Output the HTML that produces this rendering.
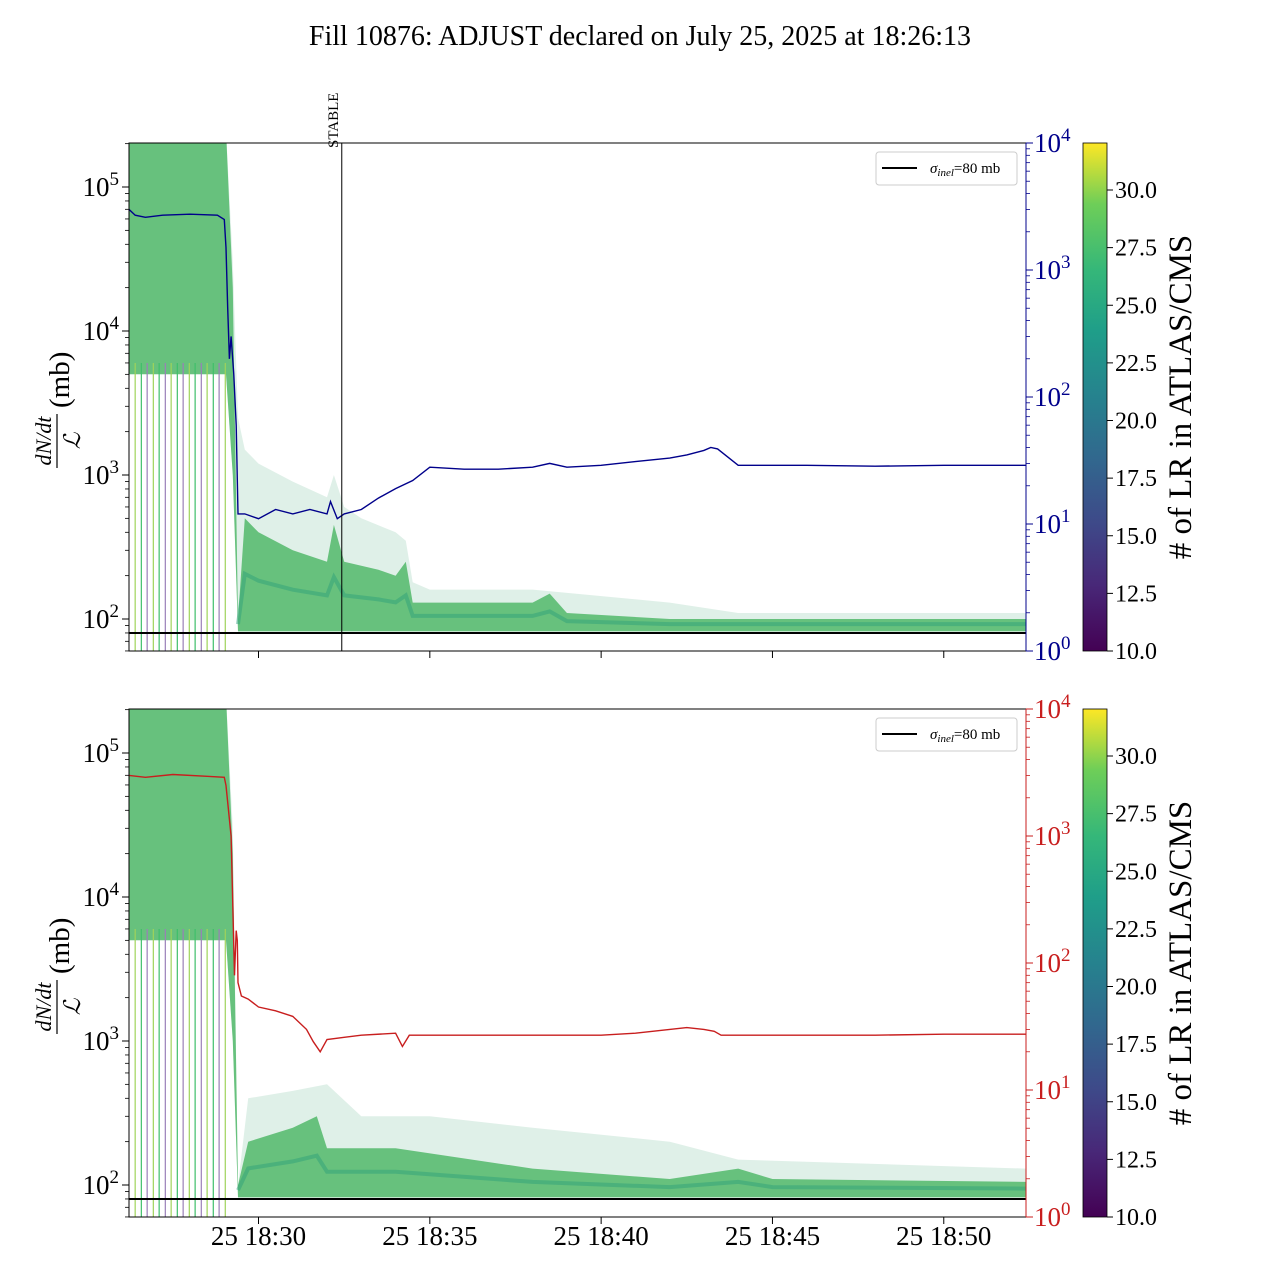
<!DOCTYPE html>
<html><head><meta charset="utf-8">
<style>
html,body{margin:0;padding:0;background:#fff;}
svg{display:block;font-family:"Liberation Serif",serif;}
</style></head>
<body>
<svg id="chart" width="1280" height="1280" viewBox="0 0 1280 1280" xmlns="http://www.w3.org/2000/svg">
<defs>
<linearGradient id="viridis" x1="0" y1="1" x2="0" y2="0">
<stop offset="0" stop-color="#440154"/><stop offset="0.13" stop-color="#482878"/><stop offset="0.25" stop-color="#3e4989"/><stop offset="0.38" stop-color="#31688e"/><stop offset="0.5" stop-color="#26828e"/><stop offset="0.63" stop-color="#1f9e89"/><stop offset="0.75" stop-color="#35b779"/><stop offset="0.88" stop-color="#6ece58"/><stop offset="1" stop-color="#fde725"/>
</linearGradient>
</defs>
<text x="640" y="45" font-size="28" text-anchor="middle">Fill 10876: ADJUST declared on July 25, 2025 at 18:26:13</text>
<g id="g"></g>
</svg>
<script>
// ---- data (time = minutes after 18:30) ----
const tStart = -3.78, tEnd = 22.4;
const xTickLabels = ["25 18:30","25 18:35","25 18:40","25 18:45","25 18:50"];
const xTickTimes = [0,5,10,15,20];
const stableTime = 2.43;
const sigmaInel = 80;
// top panel bundle envelopes
const topOuterT = [-3.78,-0.95,-0.75,-0.6,-0.4,0,1,2,2.2,2.5,3,4,4.3,4.5,5,8,12,14,22.4];
const topOuterV = [250000,250000,30000,2500,1500,1200,900,700,1000,600,500,400,350,180,160,160,130,110,110];
const topDenseT = [-3.78,-0.95,-0.75,-0.6,-0.4,0,1,2,2.2,2.5,3.5,4,4.3,4.5,5,8,8.5,9,12,22.4];
const topDenseV = [250000,250000,20000,100,500,400,300,250,450,250,220,200,250,130,130,130,150,110,100,100];
const topLowT = [-3.78,-0.95,-0.75,-0.6,22.4];
const topLowV = [5000,5000,1000,82,82];
// bottom panel bundle envelopes
const botOuterT = [-3.78,-0.95,-0.75,-0.6,-0.3,1,2,3,5,8,12,14,22.4];
const botOuterV = [250000,250000,30000,100,400,450,500,300,300,250,200,150,130];
const botDenseT = [-3.78,-0.95,-0.75,-0.6,-0.3,1,1.7,2,4,8,12,14,15,22.4];
const botDenseV = [250000,250000,20000,100,200,250,300,180,180,130,110,130,110,105];
const botLowT = [-3.78,-0.95,-0.75,-0.6,22.4];
const botLowV = [5000,5000,1000,82,82];
// vertical streak times (early phase)
const streakT = [-3.6,-3.42,-3.25,-3.07,-2.9,-2.72,-2.55,-2.37,-2.2,-2.02,-1.85,-1.67,-1.5,-1.32,-1.15,-0.97];
// blue line (top, right axis)
const blueT = [-3.78,-3.6,-3.3,-2.8,-2.0,-1.2,-1.0,-0.95,-0.9,-0.85,-0.8,-0.72,-0.65,-0.6,-0.4,0,0.5,1,1.5,2,2.1,2.3,2.5,3,3.5,4,4.5,5,6,7,8,8.5,9,10,11,12,12.5,13,13.2,13.4,14,16,18,20,22.4];
const blueV = [3000,2700,2600,2700,2750,2700,2500,1500,500,200,300,150,60,12,12,11,13,12,13,12,15,11,12,13,16,19,22,28,27,27,28,30,28,29,31,33,35,38,40,39,29,29,28.5,29,29];
// red line (bottom, right axis)
const redT = [-3.78,-3.3,-2.5,-1.5,-1.0,-0.95,-0.8,-0.7,-0.65,-0.62,-0.6,-0.5,-0.3,0,0.5,1,1.4,1.6,1.8,2,2.5,3,4,4.2,4.4,5,6,8,10,11,12,12.5,13,13.3,13.5,14,16,18,20,22.4];
const redV = [3000,2900,3050,2950,2900,2500,1000,80,180,150,70,55,52,45,42,38,30,24,20,25,26,27,28,22,27,27,27,27,27,28,30,31,30,29,27,27,27,27,27.5,27.5];

const svg = document.getElementById('g');
const NS = 'http://www.w3.org/2000/svg';
function el(tag, attrs, parent){const e=document.createElementNS(NS,tag);for(const k in attrs)e.setAttribute(k,attrs[k]);(parent||svg).appendChild(e);return e;}
const X0=129, X1=1026;
function xOf(t){return X0+(t-tStart)/(tEnd-tStart)*(X1-X0);}
function makeLeft(top){return v=>top+44+(5-Math.log10(v))*144;}
function makeRight(top){return v=>top+508-Math.log10(v)*127;}

function panel(top, oT,oV,dT,dV,lT,lV, lineT,lineV,lineColor,showXLabels,showStable,pname){
  const bot=top+508, yL=makeLeft(top), yR=makeRight(top);
  const g=el('g',{});
  
  
  const cp=el('clipPath',{id:'clip'+top},g);el('rect',{x:X0,y:top,width:X1-X0,height:508},cp);
  const c=el('g',{'clip-path':'url(#clip'+top+')'},g);
  function band(upT,upV,loT,loV,fill,op,name){
    let d='';upT.forEach((t,i)=>{d+=(i?'L':'M')+xOf(t).toFixed(1)+','+yL(upV[i]).toFixed(1);});
    for(let i=loT.length-1;i>=0;i--)d+='L'+xOf(loT[i]).toFixed(1)+','+yL(loV[i]).toFixed(1);
    const p=el('path',{d:d+'Z',fill:fill,'fill-opacity':op},c);
    
    
  }
  band(oT,oV,lT,lV,'#5fb58a',0.2,'bundle-outer-envelope');
  band(dT,dV,lT,lV,'#52b86a',0.85,'bundle-dense-band');
  let d='';let first=true;
  dT.forEach((t,i)=>{if(t< -0.6)return;const v=Math.max(85,Math.sqrt(dV[i]*85));d+=(first?'M':'L')+xOf(t).toFixed(1)+','+yL(v).toFixed(1);first=false;});
  const core=el('path',{d:d,fill:'none',stroke:'#2a9d7a','stroke-width':4,'stroke-opacity':0.45},c);
  
  
  streakT.forEach((t,i)=>{
    const s=el('line',{x1:xOf(t),x2:xOf(t),y1:yL(6000),y2:bot,stroke:i%3==0?'#9fd35a':(i%3==1?'#3fbf6a':'#9a7fb8'),'stroke-width':1.2},c);
    
    
  });
  const h=el('line',{x1:X0,x2:X1,y1:yL(sigmaInel),y2:yL(sigmaInel),stroke:'#000','stroke-width':2},g);
  
  
  let ld='';lineT.forEach((t,i)=>{ld+=(i?'L':'M')+xOf(t).toFixed(1)+','+yR(lineV[i]).toFixed(1);});
  const lp=el('path',{d:ld,fill:'none',stroke:lineColor,'stroke-width':1.4},c);
  
  
  if(showStable){
    const sx=xOf(stableTime);
    const sl=el('line',{x1:sx,x2:sx,y1:top,y2:bot,stroke:'#000','stroke-width':1},g);
    
    
    const st=el('text',{x:0,y:0,'font-size':15,transform:'translate('+(sx-4)+','+(top+5)+') rotate(-90)'},g);
    st.textContent='STABLE';
    
    
  }
  el('rect',{x:X0,y:top,width:X1-X0,height:508,fill:'none',stroke:'#000','stroke-width':1},g);
  el('line',{x1:X1,x2:X1,y1:top,y2:bot,stroke:lineColor,'stroke-width':1},g);
  for(let e=1;e<=5;e++){for(let m=1;m<10;m++){const v=m*Math.pow(10,e);const y=yL(v);if(y<top||y>bot)continue;
    el('line',{x1:X0,x2:X0-(m==1?7:4),y1:y,y2:y,stroke:'#000','stroke-width':m==1?1:0.8},g);
    if(m==1){const t=el('text',{x:X0-10,y:y+9,'font-size':27,'text-anchor':'end'},g);t.innerHTML='10<tspan dy="-11" font-size="19">'+e+'</tspan>';
      
      }}}
  for(let e=0;e<=4;e++){for(let m=1;m<10;m++){const v=m*Math.pow(10,e);if(e==4&&m>1)continue;const y=yR(v);
    el('line',{x1:X1,x2:X1+(m==1?7:4),y1:y,y2:y,stroke:lineColor,'stroke-width':m==1?1:0.8},g);
    if(m==1){const t=el('text',{x:X1+8,y:y+9,'font-size':27,fill:lineColor},g);t.innerHTML='10<tspan dy="-11" font-size="19">'+e+'</tspan>';
      
      }}}
  xTickTimes.forEach((t,i)=>{const x=xOf(t);el('line',{x1:x,x2:x,y1:bot,y2:bot+7,stroke:'#000'},g);
    if(showXLabels){const tl=el('text',{x:x,y:bot+28,'font-size':27,'text-anchor':'middle'},g);tl.textContent=xTickLabels[i];
      
      }});
  const yl=el('g',{transform:'translate(60,'+(top+253)+') rotate(-90)'},g);
  
  
  const n=el('text',{x:-45,y:-9,'font-size':22,'font-style':'italic','text-anchor':'middle'},yl);n.textContent='dN/dt';
  el('line',{x1:-72,x2:-18,y1:-3,y2:-3,stroke:'#000','stroke-width':1.2},yl);
  const dn=el('text',{x:-45,y:20,'font-size':23,'font-style':'italic','text-anchor':'middle','font-family':'Liberation Sans, sans-serif'},yl);dn.textContent='ℒ';
  const mb=el('text',{x:-12,y:9,'font-size':29},yl);mb.textContent='(mb)';
  const lg=el('g',{},g);
  
  
  el('rect',{x:876,y:top+9,width:141,height:33,rx:3,fill:'#fff',stroke:'#ccc'},lg);
  el('line',{x1:882,x2:917,y1:top+25,y2:top+25,stroke:'#000','stroke-width':2},lg);
  const lt=el('text',{x:930,y:top+30,'font-size':15},lg);lt.innerHTML='<tspan font-style="italic">σ</tspan><tspan font-style="italic" font-size="11" dy="3">inel</tspan><tspan dy="-3">=80 mb</tspan>';
  const cb=el('g',{},g);
  
  
  el('rect',{x:1083,y:top,width:24,height:508,fill:'url(#viridis)',stroke:'#000','stroke-width':0.8},cb);
  for(let v=10;v<=30;v+=2.5){const y=bot-(v-10)*23.05;el('line',{x1:1107,x2:1113,y1:y,y2:y,stroke:'#000'},cb);
    const t=el('text',{x:1115,y:y+8,'font-size':24},cb);t.textContent=v.toFixed(1);
    
    }
  const ct=el('text',{x:0,y:0,'font-size':33,'text-anchor':'middle',transform:'translate(1191,'+(top+254)+') rotate(-90)'},cb);ct.textContent='# of LR in ATLAS/CMS';
  
  
}
panel(143,topOuterT,topOuterV,topDenseT,topDenseV,topLowT,topLowV,blueT,blueV,'#00008b',false,true,'top');
panel(709,botOuterT,botOuterV,botDenseT,botDenseV,botLowT,botLowV,redT,redV,'#c81e1e',true,false,'bottom');
</script>
</body></html>
